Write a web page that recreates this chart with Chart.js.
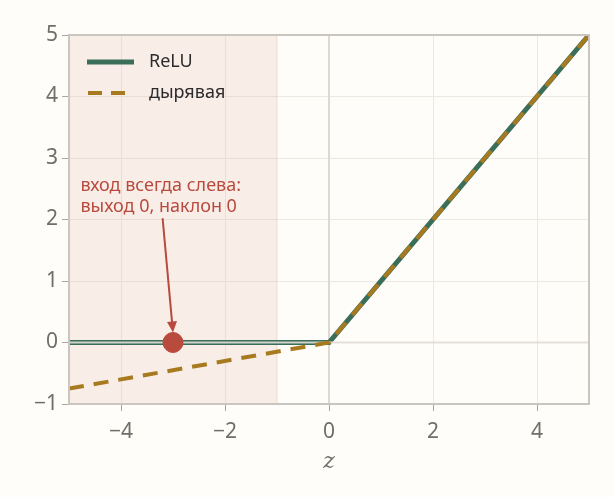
<!DOCTYPE html>
<html>
<head>
<meta charset="utf-8">
<script src="https://cdn.jsdelivr.net/npm/chart.js@4/dist/chart.umd.min.js"></script>
<style>
  html, body { margin: 0; padding: 0; background: #fffdf9; }
  #wrap { width: 615px; height: 497px; position: relative; }
</style>
</head>
<body>
<div id="wrap"><canvas id="c" width="615" height="497"></canvas></div>
<script>
const reluX = [-5, 0, 5];
const reluY = [0, 0, 5];
const leakyX = [-5, 0, 5];
const leakyY = [-0.75, 0, 5];
const shadeRange = [-5, -1];
const markerPt = [-3, 0];
const noteLines = ["вход всегда слева:", "выход 0, наклон 0"];
const notePos = [-4.78, 2.55];
const arrowFrom = [-3.2, 2.02];
const legendLabels = ["ReLU", "дырявая"];
const xTicks = [-4, -2, 0, 2, 4];

const GREEN = "#3b6e58";
const GOLD = "#a87a1f";
const RED = "#b94a3e";
const FONT = "'Noto Sans', 'DejaVu Sans', sans-serif";

function pts(xs, ys) {
  return xs.map((x, i) => ({ x, y: ys[i] }));
}

const backdrop = {
  id: "backdrop",
  beforeDatasetsDraw(chart) {
    const { ctx, chartArea: a, scales: { x, y } } = chart;
    ctx.save();
    const x0 = x.getPixelForValue(shadeRange[0]);
    const x1 = x.getPixelForValue(shadeRange[1]);
    ctx.fillStyle = "rgba(225,180,170,0.22)";
    ctx.fillRect(x0, a.top, x1 - x0, a.bottom - a.top);
    ctx.strokeStyle = "rgba(220,170,160,0.35)";
    ctx.lineWidth = 1;
    ctx.beginPath();
    ctx.moveTo(x1, a.top);
    ctx.lineTo(x1, a.bottom);
    ctx.stroke();
    // zero axes
    ctx.strokeStyle = "#dcd9d3";
    ctx.lineWidth = 2;
    const zx = x.getPixelForValue(0);
    ctx.beginPath();
    ctx.moveTo(zx, a.top);
    ctx.lineTo(zx, a.bottom);
    ctx.stroke();
    ctx.restore();
  },
  afterDatasetsDraw(chart) {
    const { ctx, chartArea: a, scales: { x, y } } = chart;
    ctx.save();
    // arrow
    const fx = x.getPixelForValue(arrowFrom[0]);
    const fy = y.getPixelForValue(arrowFrom[1]);
    const tx = x.getPixelForValue(markerPt[0]);
    const ty = y.getPixelForValue(markerPt[1]) - 10;
    const ang = Math.atan2(ty - fy, tx - fx);
    ctx.strokeStyle = RED;
    ctx.fillStyle = RED;
    ctx.lineWidth = 2;
    ctx.beginPath();
    ctx.moveTo(fx, fy);
    ctx.lineTo(tx - 9 * Math.cos(ang), ty - 9 * Math.sin(ang));
    ctx.stroke();
    ctx.beginPath();
    ctx.moveTo(tx, ty);
    ctx.lineTo(tx - 11 * Math.cos(ang) + 5 * Math.sin(ang), ty - 11 * Math.sin(ang) - 5 * Math.cos(ang));
    ctx.lineTo(tx - 11 * Math.cos(ang) - 5 * Math.sin(ang), ty - 11 * Math.sin(ang) + 5 * Math.cos(ang));
    ctx.closePath();
    ctx.fill();
    // note
    ctx.font = "18px " + FONT;
    ctx.textBaseline = "middle";
    ctx.textAlign = "left";
    const nx = x.getPixelForValue(notePos[0]);
    const ny = y.getPixelForValue(notePos[1]);
    noteLines.forEach((t, i) => ctx.fillText(t, nx, ny + i * 21));
    // legend
    const lx = a.left + 18;
    const ly = a.top + 27;
    ctx.lineWidth = 5;
    ctx.strokeStyle = GREEN;
    ctx.beginPath();
    ctx.moveTo(lx, ly);
    ctx.lineTo(lx + 47, ly);
    ctx.stroke();
    ctx.strokeStyle = GOLD;
    ctx.lineWidth = 4;
    ctx.setLineDash([14, 9]);
    ctx.beginPath();
    ctx.moveTo(lx + 1, ly + 31);
    ctx.lineTo(lx + 47, ly + 31);
    ctx.stroke();
    ctx.setLineDash([]);
    ctx.fillStyle = "#2b2b2b";
    ctx.font = "18px " + FONT;
    legendLabels.forEach((t, i) => ctx.fillText(t, lx + 62, ly + i * 31));
    // frame
    ctx.strokeStyle = "#c9c6bf";
    ctx.lineWidth = 2;
    ctx.strokeRect(a.left, a.top, a.right - a.left, a.bottom - a.top);
    ctx.restore();
  }
};

new Chart(document.getElementById("c"), {
  type: "scatter",
  data: {
    datasets: [
      {
        label: legendLabels[0],
        data: pts(reluX, reluY),
        showLine: true,
        borderColor: GREEN,
        borderWidth: 5,
        pointRadius: 0,
        order: 4
      },
      {
        label: "zero",
        data: pts([-5, 5], [0, 0]),
        showLine: true,
        borderColor: "rgba(225,222,216,0.9)",
        borderWidth: 2,
        pointRadius: 0,
        order: 3
      },
      {
        label: legendLabels[1],
        data: pts(leakyX, leakyY),
        showLine: true,
        borderColor: GOLD,
        borderWidth: 4,
        borderDash: [15, 10],
        pointRadius: 0,
        order: 2
      },
      {
        label: "marker",
        data: [{ x: markerPt[0], y: markerPt[1] }],
        backgroundColor: RED,
        borderColor: RED,
        pointRadius: 10,
        order: 1
      }
    ]
  },
  options: {
    responsive: false,
    animation: false,
    layout: { padding: { top: 35, right: 26, left: 0, bottom: 0 } },
    plugins: { legend: { display: false }, tooltip: { enabled: false } },
    scales: {
      x: {
        type: "linear",
        min: -5,
        max: 5,
        afterBuildTicks(s) { s.ticks = xTicks.map(v => ({ value: v })); },
        afterFit(s) { s.height = 93; },
        ticks: {
          color: "#6f6f6a",
          font: { size: 21, family: FONT },
          padding: 8,
          callback: v => String(v).replace("-", "\u2212")
        },
        grid: { color: "#ece9e3", tickColor: "#a9a69f", tickLength: 7, lineWidth: 1 },
        border: { display: false },
        title: {
          display: true,
          text: "z",
          color: "#6f6f6a",
          font: { size: 22, family: "'DejaVu Serif', serif", style: "italic" },
          padding: { top: 4, bottom: 22 }
        }
      },
      y: {
        min: -1,
        max: 5,
        afterFit(s) { s.width = 69; },
        ticks: {
          stepSize: 1,
          color: "#6f6f6a",
          font: { size: 21, family: FONT },
          padding: 4,
          callback: v => String(v).replace("-", "\u2212")
        },
        grid: { color: "#ece9e3", tickColor: "#a9a69f", tickLength: 7, lineWidth: 1 },
        border: { display: false }
      }
    }
  },
  plugins: [backdrop]
});
</script>
</body>
</html>
